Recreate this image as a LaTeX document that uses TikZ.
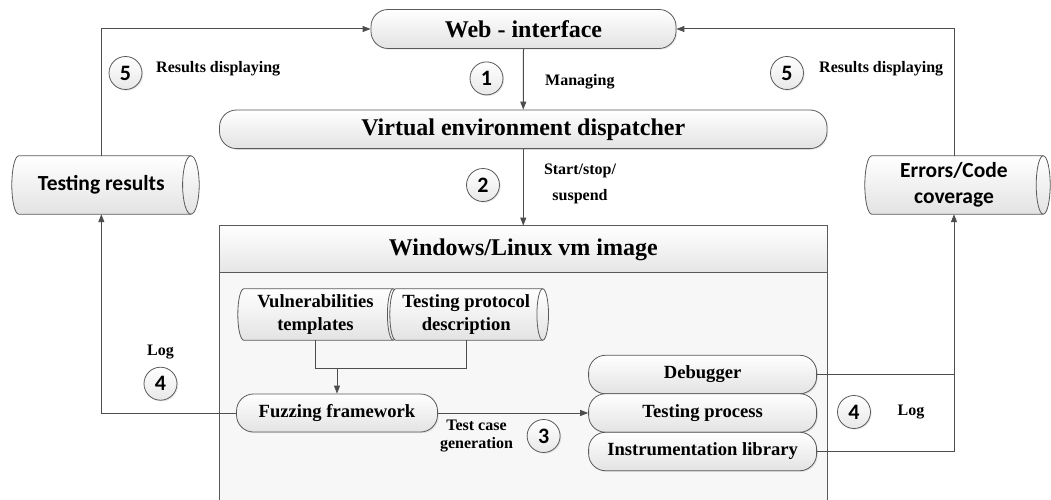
\documentclass[tikz,border=0pt]{standalone}
\usepackage{fontspec}
\setmainfont{Liberation Serif}
\newfontfamily\calib{Carlito}
\usetikzlibrary{arrows.meta,shadows,calc}
\pgfdeclarelayer{vmlayer}
\pgfdeclarelayer{cyllayer}
\pgfsetlayers{vmlayer,cyllayer,main}
\definecolor{lc}{HTML}{4D4D4D}
\definecolor{bordc}{HTML}{5A5A5A}
\tikzset{
  conn/.style={draw=lc, line width=1pt},
  arr/.style={conn, -{Triangle[length=8pt,width=6pt]}},
  shad/.style={drop shadow={shadow xshift=1.2pt, shadow yshift=-1.2pt, opacity=0.18}},
  rbox/.style={draw=bordc, line width=0.8pt, rounded corners=17pt, top color=white, bottom color=black!11,
    inner sep=0pt, font=\fontsize{18.6}{22}\selectfont\bfseries, shad},
  bigbox/.style={rbox, font=\fontsize{24}{28}\selectfont\bfseries},
  num/.style={circle, draw=bordc, line width=0.8pt, top color=white, bottom color=black!9,
    minimum size=33pt, inner sep=0pt, font=\calib\fontsize{22}{22}\selectfont\bfseries, shad},
  lbl/.style={font=\fontsize{16}{19}\selectfont\bfseries, inner sep=0pt},
  cyltext/.style={inner sep=0pt, align=center},
  sanscyl/.style={cyltext, font=\calib\fontsize{21.5}{26.5}\selectfont\bfseries},
  serifcyl/.style={cyltext, font=\fontsize{18.6}{23}\selectfont\bfseries},
  cylfill/.style={draw=bordc, line width=0.8pt, top color=white, bottom color=black!11},
}
\newcommand\cylshape[3]{%
  \path[cylfill] let \p1=(#1.north west), \p2=(#1.south east), \n1={(\y1-\y2)/2} in
    (\x1+#2pt,\y1) -- (\x2,\y1) arc[start angle=90, end angle=-90, x radius=#3pt, y radius=\n1]
    -- (\x1+#2pt,\y2) arc[start angle=270, end angle=90, x radius=#2pt, y radius=\n1] -- cycle;
  \draw[draw=bordc, line width=0.8pt] let \p1=(#1.north west), \p2=(#1.south east), \n1={(\y1-\y2)/2} in
    (\x2,\y1) arc[start angle=90, end angle=270, x radius=#3pt, y radius=\n1];
}
\begin{document}
\begin{tikzpicture}[x=1pt,y=1pt]
\useasboundingbox (0,0) rectangle (1051,499);
\begin{pgfonlayer}{vmlayer}
  \fill[white] (0,0) rectangle (1051,499);
  \node[draw=bordc, line width=0.8pt, fill=black!3, minimum width=607.5pt, minimum height=284pt, inner sep=0pt] (vm) at (523.25,131) {};
  \fill[top color=white, bottom color=black!10] (vm.north west) rectangle ([yshift=-47pt]vm.north east);
  \draw[bordc, line width=0.8pt] (vm.north west) rectangle ([yshift=-47pt]vm.north east);
\end{pgfonlayer}

% main boxes
\node[bigbox, minimum width=305pt, minimum height=39pt] (web) at (523.5,470) {Web - interface};
\node[bigbox, minimum width=607.5pt, minimum height=38.6pt] (disp) at (523.25,369.7) {Virtual environment dispatcher};
\node[font=\fontsize{24}{28}\selectfont\bfseries, inner sep=0pt] (vmt) at (523.25,249.5) {Windows/Linux vm image};

\node[rbox, minimum width=201pt, minimum height=38pt] (fuzz) at (337,86) {Fuzzing framework};
\node[rbox, minimum width=228pt, minimum height=38.5pt] (deb) at (702.6,124.5) {Debugger};
\node[rbox, minimum width=228pt, minimum height=38.5pt] (tproc) at (702.6,86) {Testing process};
\node[rbox, minimum width=228pt, minimum height=38.5pt] (instr) at (702.6,47.5) {Instrumentation library};

% cylinder texts
\node[sanscyl, minimum width=178.7pt, minimum height=58pt] (tr) at (101.35,314) {Testing results};
\node[sanscyl, minimum width=178pt, minimum height=58pt] (ec) at (954,314) {Errors/Code\\coverage};
\node[serifcyl, minimum width=155pt, minimum height=51pt] (vt) at (315.5,184.5) {Vulnerabilities\\templates};
\node[serifcyl, minimum width=152.5pt, minimum height=51pt] (tp) at (466.25,184.5) {Testing protocol\\description};

\begin{pgfonlayer}{cyllayer}
  \cylshape{tr}{7}{8.3}
  \cylshape{ec}{7}{7}
  \cylshape{vt}{6}{5.8}
  \cylshape{tp}{6}{5.8}
\end{pgfonlayer}

% connectors
\draw[arr] (web.south) -- (disp.north);
\draw[arr] (disp.south) -- (vm.north);
\draw[arr] (tr.north) |- (web.west);
\draw[arr] (ec.north) |- (web.east);
\draw[arr] (fuzz.west) -| (tr.south);
\draw[arr] (fuzz.east) -- (tproc.west);
\draw[arr] (instr.east) -| (ec.south);
\draw[conn] (deb.east) -- (deb.east -| ec.south);
\coordinate (jn) at ($(vt.south)+(0,-28)$);
\draw[conn] (vt.south) -- (jn) -| (tp.south);
\draw[arr] (jn -| fuzz.north) -- (fuzz.north);

% numbered circles
\node[num] (c5l) at (125.5,426) {5};
\node[num] (c1) at (486.5,420.6) {1};
\node[num] (c2) at (483,314) {2};
\node[num] (c5r) at (787,426) {5};
\node[num] (c4l) at (160.5,115.3) {4};
\node[num] (c3) at (543.6,63) {3};
\node[num] (c4r) at (854,87) {4};

% labels
\node[lbl, anchor=base west] (l5l) at (156,426) {Results displaying};
\node[lbl, anchor=base west] (l5r) at (819,426) {Results displaying};
\node[lbl, anchor=base west] (l1) at (545,413) {Managing};
\node[lbl, align=center, font=\fontsize{16}{25.6}\selectfont\bfseries] (l2) at (580,315) {Start/stop/\\suspend};
\node[lbl, align=center, font=\fontsize{16}{18.5}\selectfont\bfseries] (l3) at (476.5,63) {Test case\\generation};
\node[lbl] (l4l) at (160.5,147.4) {Log};
\node[lbl] (l4r) at (911,87) {Log};
\end{tikzpicture}
\end{document}
